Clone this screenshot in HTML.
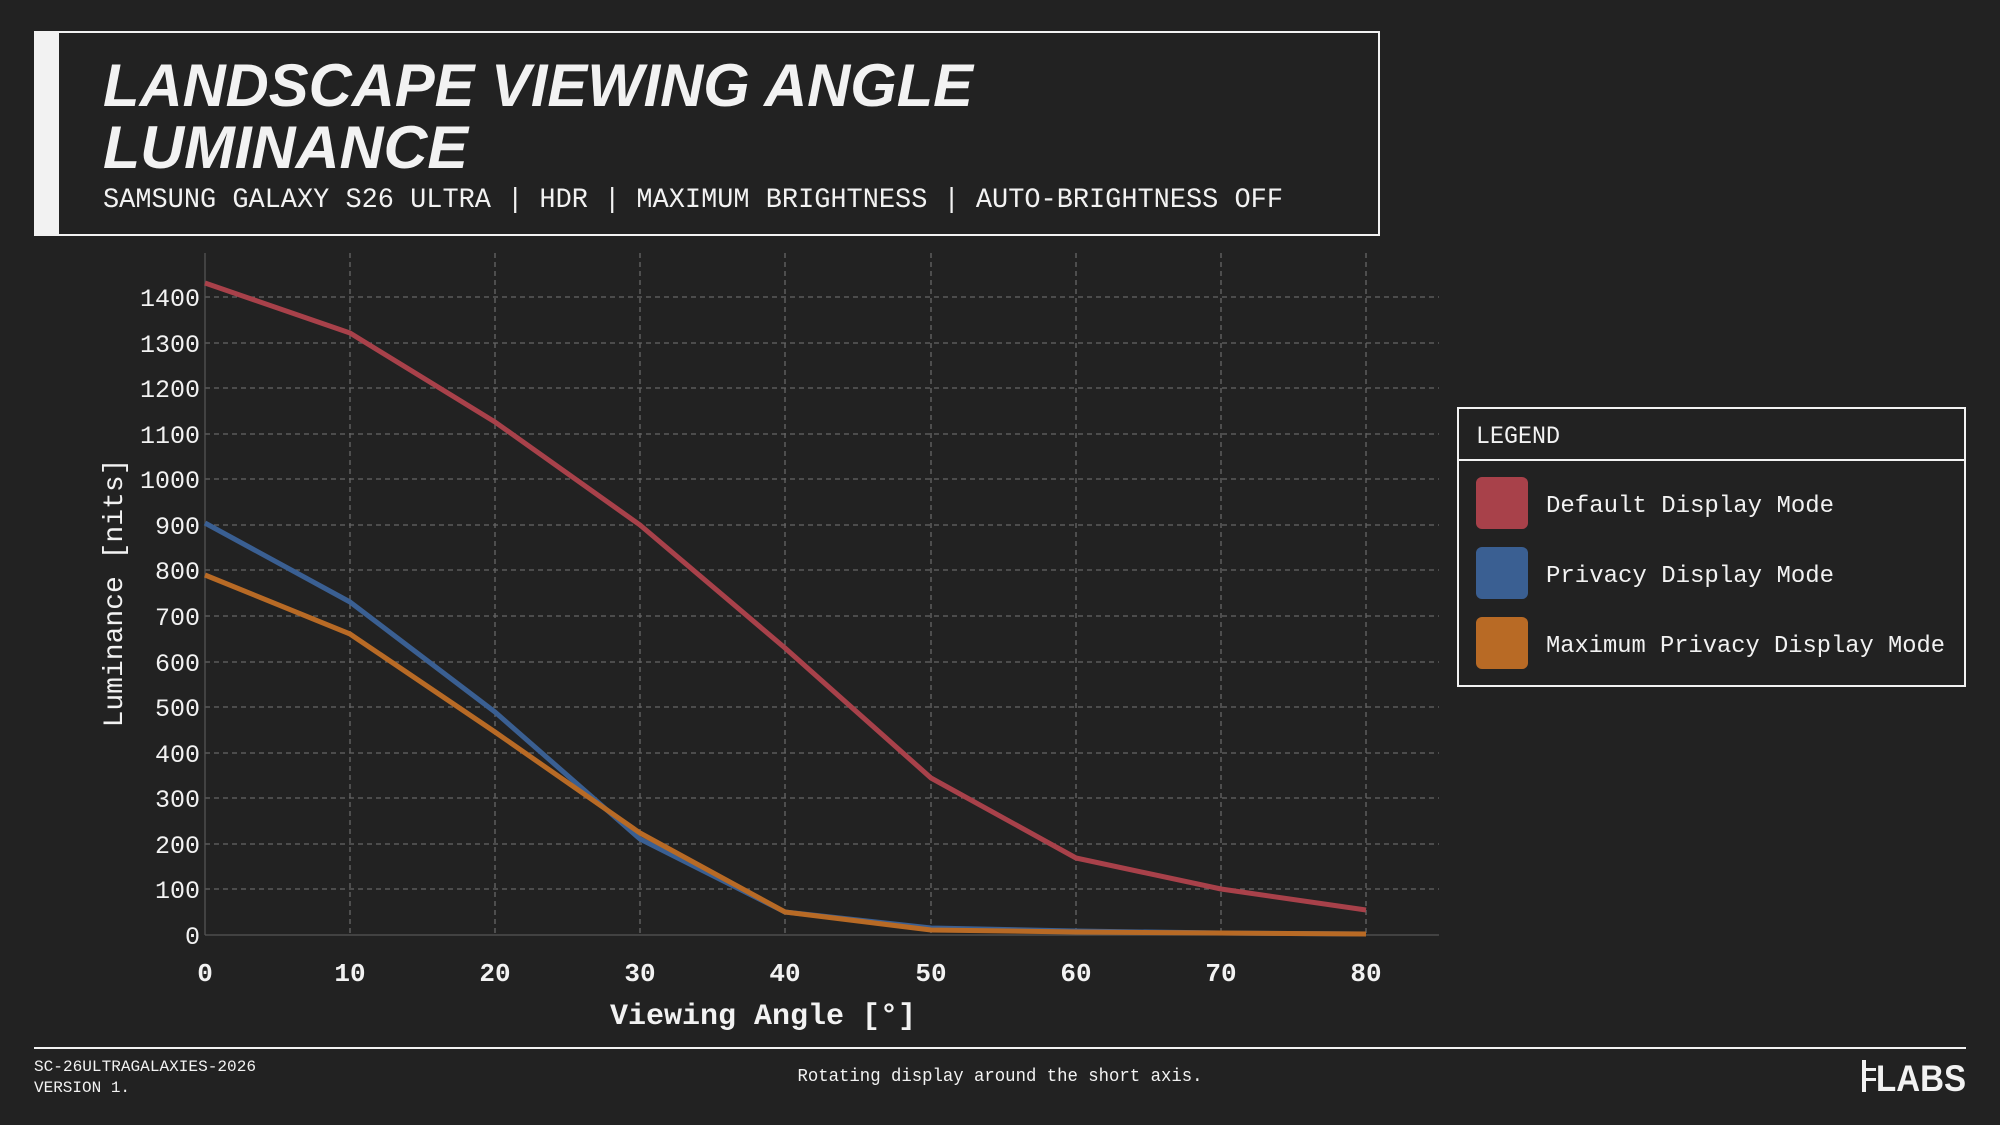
<!DOCTYPE html>
<html><head><meta charset="utf-8"><style>
html,body{margin:0;padding:0;background:#222222;}
svg{display:block}
</style></head><body>
<svg width="2000" height="1125" viewBox="0 0 2000 1125" xmlns="http://www.w3.org/2000/svg">
<rect width="2000" height="1125" fill="#222222"/>
<!-- header -->
<rect x="35" y="32" width="1344" height="203" fill="none" stroke="#f2f2f2" stroke-width="2"/>
<rect x="34" y="31" width="25" height="205" fill="#f2f2f2"/>
<g font-family="Liberation Sans, sans-serif" font-weight="bold" font-style="italic" fill="#f2f2f2" font-size="60">
<text x="103" y="106" textLength="870" lengthAdjust="spacingAndGlyphs">LANDSCAPE VIEWING ANGLE</text>
<text x="103" y="168" textLength="365" lengthAdjust="spacingAndGlyphs">LUMINANCE</text>
</g>
<text x="103" y="207" font-family="Liberation Mono, monospace" font-size="28" fill="#f2f2f2" textLength="1180" lengthAdjust="spacingAndGlyphs">SAMSUNG GALAXY S26 ULTRA | HDR | MAXIMUM BRIGHTNESS | AUTO-BRIGHTNESS OFF</text>

<!-- grid -->
<g stroke="#666" stroke-width="1.3" stroke-dasharray="5,4">
<line x1="350" y1="253" x2="350" y2="935"/><line x1="495" y1="253" x2="495" y2="935"/>
<line x1="640" y1="253" x2="640" y2="935"/><line x1="785" y1="253" x2="785" y2="935"/>
<line x1="931" y1="253" x2="931" y2="935"/><line x1="1076" y1="253" x2="1076" y2="935"/>
<line x1="1221" y1="253" x2="1221" y2="935"/><line x1="1366" y1="253" x2="1366" y2="935"/>
<line x1="205" y1="889" x2="1439" y2="889"/><line x1="205" y1="844" x2="1439" y2="844"/>
<line x1="205" y1="798" x2="1439" y2="798"/><line x1="205" y1="753" x2="1439" y2="753"/>
<line x1="205" y1="707" x2="1439" y2="707"/><line x1="205" y1="662" x2="1439" y2="662"/>
<line x1="205" y1="616" x2="1439" y2="616"/><line x1="205" y1="570" x2="1439" y2="570"/>
<line x1="205" y1="525" x2="1439" y2="525"/><line x1="205" y1="479" x2="1439" y2="479"/>
<line x1="205" y1="434" x2="1439" y2="434"/><line x1="205" y1="388" x2="1439" y2="388"/>
<line x1="205" y1="343" x2="1439" y2="343"/><line x1="205" y1="297" x2="1439" y2="297"/>
</g>
<g stroke="#555" stroke-width="1.3">
<line x1="205" y1="253" x2="205" y2="935"/><line x1="205" y1="935" x2="1439" y2="935"/>
</g>
<!-- y labels -->
<g font-family="Liberation Mono, monospace" font-size="25" fill="#f2f2f2" text-anchor="end">
<text x="200" y="944">0</text><text x="200" y="898">100</text><text x="200" y="853">200</text>
<text x="200" y="807">300</text><text x="200" y="762">400</text><text x="200" y="716">500</text>
<text x="200" y="671">600</text><text x="200" y="625">700</text><text x="200" y="579">800</text>
<text x="200" y="534">900</text><text x="200" y="488">1000</text><text x="200" y="443">1100</text>
<text x="200" y="397">1200</text><text x="200" y="352">1300</text><text x="200" y="306">1400</text>
</g>
<g font-family="Liberation Mono, monospace" font-size="26" font-weight="bold" fill="#f2f2f2" text-anchor="middle">
<text x="205" y="981">0</text><text x="350" y="981">10</text><text x="495" y="981">20</text>
<text x="640" y="981">30</text><text x="785" y="981">40</text><text x="931" y="981">50</text>
<text x="1076" y="981">60</text><text x="1221" y="981">70</text><text x="1366" y="981">80</text>
</g>
<text x="763" y="1024" font-family="Liberation Mono, monospace" font-size="30" font-weight="bold" fill="#f2f2f2" text-anchor="middle">Viewing Angle [°]</text>
<text transform="translate(122,593) rotate(-90)" font-family="Liberation Mono, monospace" font-size="28" fill="#f2f2f2" text-anchor="middle">Luminance [nits]</text>

<!-- series -->
<g fill="none" stroke-width="5" stroke-linejoin="round">
<polyline stroke="#a8414a" points="205,283 350,333 495,422 640,525 785,648 931,778 1076,858 1221,889 1366,910"/>
<polyline stroke="#3a5f92" points="205,523 350,602 495,712 640,839 785,912 931,928 1076,931 1221,933 1366,934"/>
<polyline stroke="#b86a25" points="205,575 350,634 495,732 640,833 785,912 931,930 1076,932 1221,933 1366,934"/>
</g>

<!-- legend -->
<rect x="1458" y="408" width="507" height="278" fill="none" stroke="#f2f2f2" stroke-width="2"/>
<line x1="1458" y1="460" x2="1965" y2="460" stroke="#f2f2f2" stroke-width="2"/>
<text x="1476" y="443" font-family="Liberation Mono, monospace" font-size="25" fill="#f2f2f2" textLength="84" lengthAdjust="spacingAndGlyphs">LEGEND</text>
<rect x="1476" y="477" width="52" height="52" rx="6" fill="#a8414a"/>
<rect x="1476" y="547" width="52" height="52" rx="6" fill="#3a5f92"/>
<rect x="1476" y="617" width="52" height="52" rx="6" fill="#b86a25"/>
<g font-family="Liberation Mono, monospace" font-size="24" fill="#f2f2f2">
<text x="1546" y="512">Default Display Mode</text>
<text x="1546" y="582">Privacy Display Mode</text>
<text x="1546" y="652" textLength="399" lengthAdjust="spacingAndGlyphs">Maximum Privacy Display Mode</text>
</g>

<!-- footer -->
<line x1="34" y1="1048" x2="1966" y2="1048" stroke="#f2f2f2" stroke-width="2"/>
<g font-family="Liberation Mono, monospace" font-size="16" fill="#f2f2f2">
<text x="34" y="1071" textLength="222" lengthAdjust="spacingAndGlyphs">SC-26ULTRAGALAXIES-2026</text>
<text x="34" y="1092">VERSION 1.</text>
<text x="1000" y="1081" text-anchor="middle" font-size="18" textLength="405" lengthAdjust="spacingAndGlyphs">Rotating display around the short axis.</text>
</g>
<g fill="#f2f2f2">
<rect x="1862" y="1060" width="4" height="32"/>
<rect x="1866" y="1068" width="10" height="3"/><rect x="1866" y="1078" width="10" height="3"/>
<text x="1876" y="1091" font-family="Liberation Sans, sans-serif" font-weight="bold" font-size="37" textLength="90" lengthAdjust="spacingAndGlyphs">LABS</text>
</g>
</svg>
</body></html>
